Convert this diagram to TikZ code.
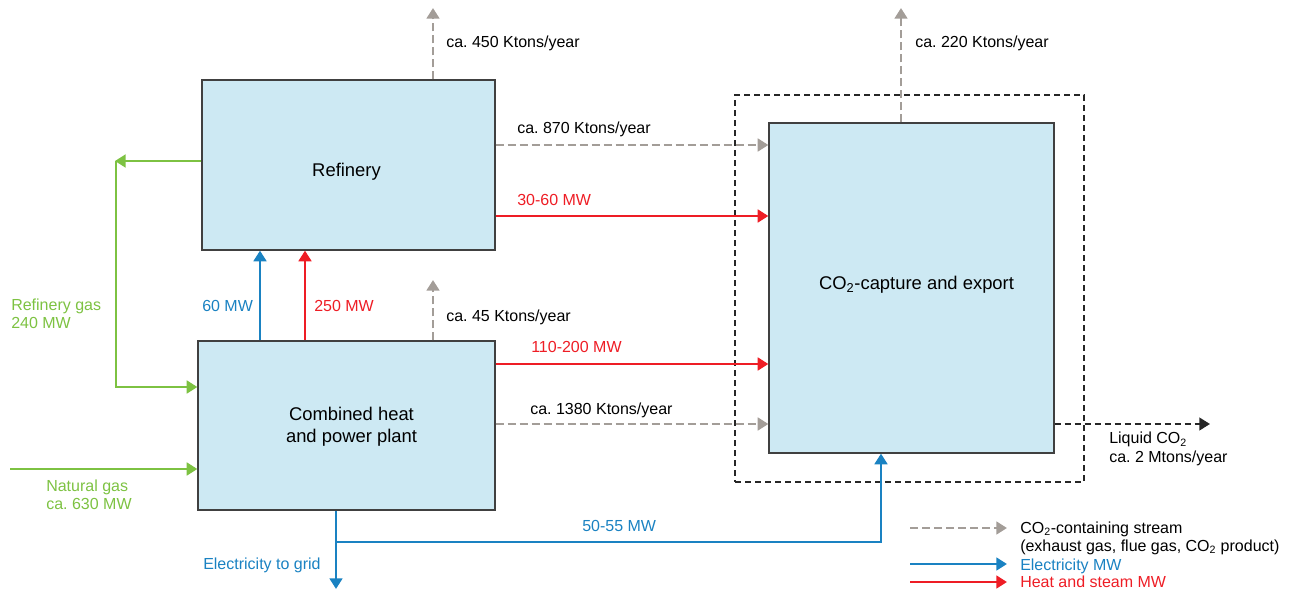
\documentclass[tikz,border=0pt]{standalone}
\usepackage{fontspec}
\setmainfont{Liberation Sans}
\usetikzlibrary{arrows.meta}
\definecolor{boxfill}{HTML}{CDE9F3}
\definecolor{cgray}{HTML}{A39D98}
\definecolor{cgreen}{HTML}{7DC242}
\definecolor{cblue}{HTML}{1A82C2}
\definecolor{cred}{HTML}{EE1D25}
\frenchspacing
\begin{document}
\begin{tikzpicture}[x=0.75pt,y=-0.75pt,
  font=\fontsize{12}{13.8}\selectfont,
  box/.style={draw=black!75, line width=0.9pt, fill=boxfill, inner sep=0pt},
  boxtext/.style={inner sep=0pt, align=center, font=\fontsize{13.8}{16.5}\selectfont},
  lbl/.style={inner sep=0pt, anchor=base west},
  mlbl/.style={inner sep=0pt, anchor=west, align=left},
  tip/.style={-{Triangle[length=8pt,width=9.5pt]}},
  gasflow/.style={cgray, line width=2.2pt, dash pattern=on 6pt off 3pt, tip},
  elec/.style={cblue, line width=2.2pt},
  heat/.style={cred, line width=2.2pt},
  fuel/.style={cgreen, line width=2.2pt},
  liquid/.style={black!85, line width=1.6pt, dash pattern=on 4.5pt off 3pt, tip}
]
\useasboundingbox (0,0) rectangle (1290,589);

% helper coordinates
\coordinate (y145) at (0,145);
\coordinate (y161) at (0,161);
\coordinate (y216) at (0,216);
\coordinate (y364) at (0,364);
\coordinate (y387) at (0,387);
\coordinate (y424) at (0,424);
\coordinate (x260) at (260,0);
\coordinate (x305) at (305,0);
\coordinate (x881) at (881,0);
\coordinate (refTop) at (433,8);
\coordinate (co2Top) at (901,8);
\coordinate (chpTop) at (433,280);
\coordinate (gLeft) at (116,161);
\coordinate (ngStart) at (10,469);
\coordinate (gridEnd) at (336,589);
\coordinate (branch) at (336,542);
\coordinate (liqEnd) at (1210,424);
\coordinate (lg1a) at (910,528);
\coordinate (lg1b) at (1007,528);
\coordinate (lg2a) at (910,564);
\coordinate (lg2b) at (1007,564);
\coordinate (lg3a) at (910,582);
\coordinate (lg3b) at (1007,582);

% boxes
\node[draw=black!85, line width=0.8pt, dash pattern=on 4.5pt off 3pt, inner sep=0pt,
      minimum width=261.75pt, minimum height=290.25pt] (cap) at (909.5,288.5) {};
\node[box, minimum width=219.75pt, minimum height=127.5pt] (ref) at (348.5,165) {};
\node[box, minimum width=222.75pt, minimum height=126.75pt] (chp) at (346.5,425.5) {};
\node[box, minimum width=213.75pt, minimum height=247.5pt] (co2) at (911.5,288) {};
\node[boxtext] (reft) at ([shift={(-2,7)}]ref.center) {Refinery};
\node[boxtext] (chpt) at ([shift={(5,1)}]chp.center) {Combined heat\\and power plant};
\node[boxtext] (co2t) at ([shift={(5,-3)}]co2.center) {CO\textsubscript{2}-capture and export};

% CO2-containing streams
\draw[gasflow] (ref.north -| refTop) -- (refTop);
\draw[gasflow] (co2.north -| co2Top) -- (co2Top);
\draw[gasflow] (chp.north -| chpTop) -- (chpTop);
\draw[gasflow] (ref.east |- y145) -- (co2.west |- y145);
\draw[gasflow] (chp.east |- y424) -- (co2.west |- y424);

% heat and steam
\draw[heat, tip] (ref.east |- y216) -- (co2.west |- y216);
\draw[heat, tip] (chp.east |- y364) -- (co2.west |- y364);
\draw[heat, tip] (chp.north -| x305) -- (ref.south -| x305);

% electricity
\draw[elec, tip] (chp.north -| x260) -- (ref.south -| x260);
\draw[elec, tip] (chp.south -| gridEnd) -- (gridEnd);
\draw[elec, tip] (branch) -| (co2.south -| x881);

% fuels
\draw[fuel, tip] (gLeft) |- (chp.west |- y387);
\draw[fuel, tip] (ref.west |- y161) -- ([xshift=-0.8pt]gLeft);
\draw[fuel, tip] (ngStart) -- (chp.west |- ngStart);

% liquid CO2
\draw[liquid] (co2.east |- liqEnd) -- (liqEnd);

% labels
\node[lbl] (l450) at (446,47) {ca. 450 Ktons/year};
\node[lbl] (l220) at (915,47) {ca. 220 Ktons/year};
\node[lbl] (l870) at (517,133) {ca. 870 Ktons/year};
\node[lbl, text=cred] (l3060) at (517,205) {30-60 MW};
\node[lbl] (l45) at (446,321) {ca. 45 Ktons/year};
\node[lbl, text=cblue] (l60) at (202,311) {60 MW};
\node[lbl, text=cred] (l250) at (314,311) {250 MW};
\node[lbl, text=cred] (l110) at (531,352) {110-200 MW};
\node[lbl] (l1380) at (530,414) {ca. 1380 Ktons/year};
\node[lbl, text=cblue] (l5055) at (582,531) {50-55 MW};
\node[lbl, text=cblue] (lgrid) at (203,569) {Electricity to grid};
\node[mlbl, text=cgreen] (lrg) at (11,314) {Refinery gas\\240 MW};
\node[mlbl, text=cgreen] (lng) at (46,495) {Natural gas\\ca. 630 MW};
\node[mlbl] (lliq) at (1109,449) {Liquid CO\textsubscript{2}\\ca. 2 Mtons/year};

% legend
\draw[gasflow] (lg1a) -- (lg1b);
\draw[elec, tip] (lg2a) -- (lg2b);
\draw[heat, tip] (lg3a) -- (lg3b);
\node[lbl] (lg1t) at (1020,533) {CO\textsubscript{2}-containing stream};
\node[lbl] (lg1u) at (1020,551) {(exhaust gas, flue gas, CO\textsubscript{2} product)};
\node[lbl, text=cblue] (lg2t) at (1020,570) {Electricity MW};
\node[lbl, text=cred] (lg3t) at (1020,587.5) {Heat and steam MW};
\end{tikzpicture}
\end{document}
